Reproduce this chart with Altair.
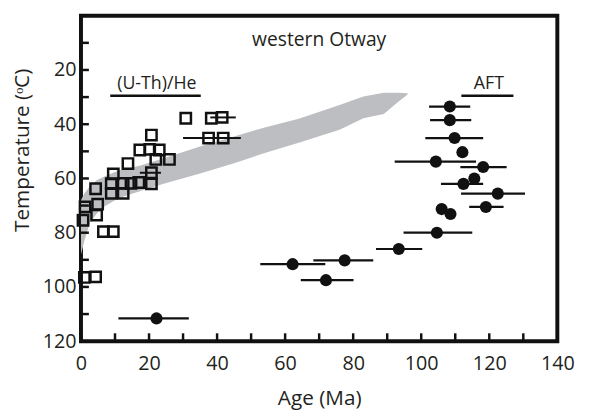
import altair as alt
import pandas as pd

# ---- (U-Th)/He data (open squares) ----
he_age = [0.6, 1.2, 4.6, 4.9, 4.3, 6.6, 9.5, 1.0, 4.3, 9.5, 8.9, 8.9, 12.4, 12.4, 14.7, 17.0,
          13.8, 17.3, 20.2, 23.0, 20.7, 22.0, 26.0, 20.7, 20.7, 30.8, 38.3, 41.5, 37.5, 41.8]
he_temp = [75.4, 70.5, 73.5, 69.5, 63.8, 79.6, 79.6, 96.5, 96.3, 58.3, 61.9, 65.5, 61.8, 65.5, 61.8, 61.5,
           54.5, 49.5, 49.3, 49.5, 44.0, 53.0, 53.0, 57.9, 62.0, 37.8, 37.8, 37.5, 45.1, 45.1]
he_err_lo = [None] * 23 + [17.3, None, None, None, 38.0, 30.0, 39.0]
he_err_hi = [None] * 23 + [23.5, None, None, None, 45.5, 44.0, 47.0]

# ---- AFT data (filled circles) ----
aft_age = [108.4, 108.4, 109.8, 112.1, 104.3, 118.2, 115.6, 112.4, 122.5, 119.0, 106.0, 108.6,
           104.6, 93.4, 77.5, 62.2, 72.0, 22.2]
aft_temp = [33.5, 38.5, 45.1, 50.3, 53.8, 55.8, 60.0, 62.0, 65.6, 70.5, 71.3, 73.1,
            80.0, 86.0, 90.2, 91.6, 97.5, 111.6]
aft_err_lo = [102.3, 102.6, 101.2, None, 92.2, 111.5, None, 105.8, 111.7, 114.1, None, None,
              94.8, 86.7, 68.3, 52.7, 64.6, 11.0]
aft_err_hi = [114.4, 114.7, 118.2, None, 116.1, 125.1, None, 118.2, 130.5, 124.2, None, None,
              115.0, 100.3, 85.9, 71.8, 80.1, 31.7]

# ---- grey model envelope ----
band_age = [0, 1, 2.6, 4.6, 6.6, 11, 17.5, 24.8, 35, 45, 54, 64, 76, 83, 89, 93, 96]
band_top = [68, 65.5, 63, 60.7, 59.5, 57.1, 55.2, 52.4, 48.2, 44.5, 41.2, 38.0, 32.9, 29.8, 28.4, 28.4, 28.6]
band_bottom = [88, 83, 76.4, 73, 70.5, 67.3, 64.6, 61.8, 58.2, 54.4, 50.6, 46.8, 42, 37.8, 36.2, 32, 29]

# ---- annotations ----
label_text = ["(U-Th)/He", "AFT", "western Otway"]
label_age = [22.3, 119.9, 70.0]
label_temp = [25.3, 25.3, 9.0]
label_size = [18, 18, 19.5]
underline_lo = [8.6, 111.8]
underline_hi = [35.2, 127.1]
underline_temp = [29.5, 29.5]

x_label_values = [0, 20, 40, 60, 80, 100, 120, 140]
y_label_values = [20, 40, 60, 80, 100, 120]
x_tick_values = list(range(0, 141, 10))
y_tick_values = list(range(0, 121, 10))

FONT = "Open Sans"
TXT = "#231f20"

xs = alt.Scale(domain=[0, 140], nice=False, zero=False)
ys = alt.Scale(domain=[0, 120], reverse=True, nice=False, zero=False)

xaxis = alt.Axis(values=x_label_values, ticks=False, tickSize=0, domain=False, grid=False,
                 labelFlush=False, labelOverlap=False,
                 labelFont=FONT, labelFontSize=20, labelColor=TXT, labelPadding=13,
                 labelBaseline="top", title="Age (Ma)", titleFont=FONT, titleFontSize=21,
                 titleFontWeight="normal", titleColor=TXT, titleY=58, titleBaseline="middle")
yaxis = alt.Axis(values=y_label_values, ticks=False, tickSize=0, domain=False, grid=False,
                 labelFlush=False, labelOverlap=False,
                 labelFont=FONT, labelFontSize=20, labelColor=TXT, labelPadding=5,
                 title="Temperature (ᵒC)", titleFont=FONT, titleFontSize=21,
                 titleFontWeight="normal", titleColor=TXT, titleX=-59, titleY=136,
                 titleAngle=-90, titleAlign="center", titleBaseline="middle")

band_df = pd.DataFrame({"age": band_age, "temp": band_top, "bottom": band_bottom})
he_df = pd.DataFrame({"age": he_age, "temp": he_temp, "lo": he_err_lo, "hi": he_err_hi})
aft_df = pd.DataFrame({"age": aft_age, "temp": aft_temp, "lo": aft_err_lo, "hi": aft_err_hi})
he_err_df = he_df.dropna()
aft_err_df = aft_df.dropna()
lab_df = pd.DataFrame({"age": label_age, "temp": label_temp, "text": label_text, "size": label_size})
ul_df = pd.DataFrame({"age": underline_lo, "hi": underline_hi, "temp": underline_temp})

X = lambda f="age:Q": alt.X(f, scale=xs, axis=xaxis)
Y = lambda f="temp:Q": alt.Y(f, scale=ys, axis=yaxis)

band = alt.Chart(band_df).mark_area(color="#bdbec1", opacity=1, orient="vertical").encode(
    x=X(), y=Y(), y2="bottom:Q")

he_err = alt.Chart(he_err_df).mark_rule(color="#111", strokeWidth=2).encode(
    x=alt.X("lo:Q", scale=xs, axis=xaxis), x2="hi:Q", y=Y())
he_pts = alt.Chart(he_df).mark_point(shape="square", filled=False, size=110, strokeWidth=2.5,
                                     color="#111", opacity=1).encode(x=X(), y=Y())

aft_err = alt.Chart(aft_err_df).mark_rule(color="#111", strokeWidth=2.2).encode(
    x=alt.X("lo:Q", scale=xs, axis=xaxis), x2="hi:Q", y=Y())
aft_pts = alt.Chart(aft_df).mark_circle(size=150, color="#111", opacity=1).encode(x=X(), y=Y())

labels = alt.Chart(lab_df).mark_text(font=FONT, color=TXT, baseline="middle",
                                     align="center").encode(
    x=X(), y=Y(), text="text:N", size=alt.Size("size:Q", scale=None, legend=None))
underlines = alt.Chart(ul_df).mark_rule(color="#111", strokeWidth=2.5).encode(x=X(), x2="hi:Q", y=Y())

xticks = alt.Chart(pd.DataFrame({"age": x_tick_values})).mark_rule(color="#111", strokeWidth=2.5).encode(
    x=X(), y=alt.value(330), y2=alt.value(322))
yticks = alt.Chart(pd.DataFrame({"temp": y_tick_values})).mark_rule(color="#111", strokeWidth=2.5).encode(
    y=Y(), x=alt.value(0), x2=alt.value(8))

chart = alt.layer(band, he_err, he_pts, aft_err, aft_pts, labels, underlines, xticks, yticks).properties(
    width=483, height=330,
    autosize=alt.AutoSizeParams(type="none"),
    padding={"left": 74, "top": 5, "right": 24, "bottom": 71},
    background="white",
).configure_view(stroke="#111", strokeWidth=4)

chart.save("out.html", embed_options={"renderer": "svg", "actions": False})
